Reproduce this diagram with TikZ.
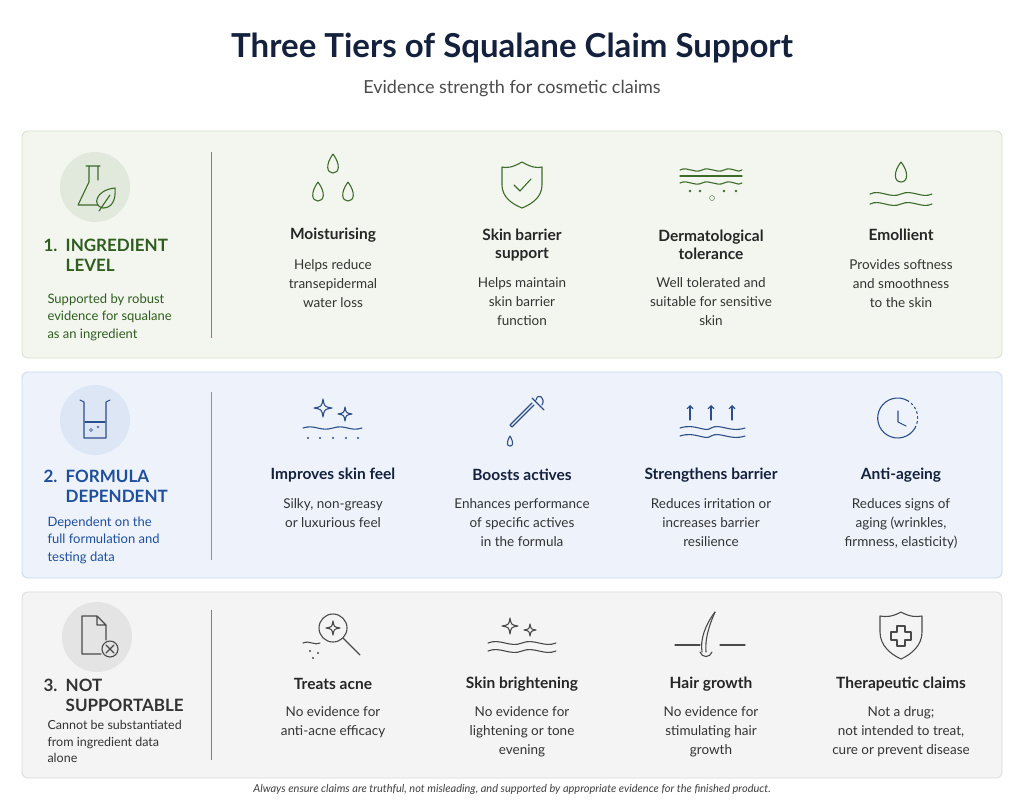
\documentclass[tikz,border=0pt]{standalone}
\usepackage{fontspec}
\setmainfont{Lato}
\usetikzlibrary{arrows.meta}
\definecolor{gbg}{HTML}{F2F6EF}\definecolor{gbd}{HTML}{D3E0CC}\definecolor{gdk}{HTML}{2F5D1E}\definecolor{gic}{HTML}{3D6B2A}\definecolor{gci}{HTML}{E1E8DC}
\definecolor{bbg}{HTML}{EEF3FB}\definecolor{bbd}{HTML}{C8D7EE}\definecolor{bdk}{HTML}{1F4F9C}\definecolor{bic}{HTML}{2C4F8A}\definecolor{bci}{HTML}{DDE6F4}
\definecolor{ybg}{HTML}{F4F4F4}\definecolor{ybd}{HTML}{DADADA}\definecolor{ydk}{HTML}{333333}\definecolor{yic}{HTML}{4A4A4A}\definecolor{yci}{HTML}{E4E4E4}
\definecolor{navy}{HTML}{14213D}
\tikzset{
 panel/.style={rounded corners=6pt,line width=0.8pt},
 head/.style={font=\fontsize{15.5}{18}\selectfont\bfseries,align=center,text=#1},
 desc/.style={font=\fontsize{13.5}{19}\selectfont,align=center,text=#1},
 lhead/.style={font=\fontsize{17}{20}\selectfont\bfseries,align=left,anchor=north west,text=#1},
 ldesc/.style={font=\fontsize{13}{17.5}\selectfont,align=left,anchor=north west,text=#1},
 ic/.style={line width=1.1pt,draw=#1,line cap=round,line join=round},
}
\newcommand{\mysparkle}[4]{% color, x, y, size
 \draw[ic=#1] (#2,#3-#4) .. controls (#2+0.15*#4,#3-0.15*#4) .. (#2+#4,#3) .. controls (#2+0.15*#4,#3+0.15*#4) .. (#2,#3+#4) .. controls (#2-0.15*#4,#3+0.15*#4) .. (#2-#4,#3) .. controls (#2-0.15*#4,#3-0.15*#4) .. (#2,#3-#4);}
\begin{document}
\begin{tikzpicture}[x=1pt,y=-1pt]
\useasboundingbox[fill=white] (0,0) rectangle (1024,806);
\node[font=\fontsize{33}{38}\selectfont\bfseries,text=navy] (title) at (512,48) {Three Tiers of Squalane Claim Support};
\node[font=\fontsize{18}{22}\selectfont,text=black!70] (sub) at (512,89) {Evidence strength for cosmetic claims};
% panels
\draw[panel,fill=gbg,draw=gbd] (22,131) rectangle (1002,358);
\draw[panel,fill=bbg,draw=bbd] (22,372) rectangle (1002,578);
\draw[panel,fill=ybg,draw=ybd] (22,592) rectangle (1002,778);
% left circles
\fill[gci] (95,187) circle (35);
\fill[bci] (95,420) circle (35);
\fill[yci] (97,637) circle (35);
% tier1 left icon: flask + leaf
\draw[ic=gic] (86,166)--(100,166) (89,166)--(89,182)--(78,205)--(101,205) (98,166)--(98,180);
\draw[ic=gic,fill=gci] (103,208) .. controls (92,206) and (95,190) .. (115,188) .. controls (116,200) and (112,208) .. (103,208);
\draw[ic=gic] (99,211)--(110,195);
% tier2 beaker
\draw[ic=bic] (80,400)--(84,402)--(84,438)--(106,438)--(106,402)--(110,400);
\draw[ic=bic] (85,422)--(105,422);
\draw[bic] (91,430) circle (1.5) (98,427) circle (1.2);
% tier3 doc with x
\draw[ic=yic] (82,616)--(97,616)--(106,625)--(106,640) (101,654)--(82,654)--(82,616) (97,616)--(97,625)--(106,625);
\draw[ic=yic,fill=yci] (110,649) circle (8);
\draw[ic=yic] (106,645)--(114,653) (114,645)--(106,653);
% dividers
\draw[gdk!70,line width=1pt] (211,152)--(211,338);
\draw[bdk!60,line width=1pt] (211,392)--(211,560);
\draw[black!50,line width=1pt] (211,610)--(211,760);
% left texts
\node[lhead=gdk] (l1) at (40,236) {1.\ \ INGREDIENT\\\phantom{1.\ \ }LEVEL};
\node[ldesc=gdk] (d1) at (44,290) {Supported by robust\\evidence for squalane\\as an ingredient};
\node[lhead=bdk] (l2) at (40,467) {2.\ \ FORMULA\\\phantom{2.\ \ }DEPENDENT};
\node[ldesc=bdk] (d2) at (44,513) {Dependent on the\\full formulation and\\testing data};
\node[lhead=ydk] (l3) at (40,676) {3.\ \ NOT\\\phantom{3.\ \ }SUPPORTABLE};
\node[ldesc=ydk,font=\fontsize{12.5}{16.5}\selectfont] (d3) at (44,717) {Cannot be substantiated\\from ingredient data\\alone};
% tier1 columns
\node[head=black!85] (h11) at (333,235) {Moisturising};
\node[desc=black!80,anchor=north] (t11) at (333,256) {Helps reduce\\transepidermal\\water loss};
\node[head=black!85] (h12) at (522,245) {Skin barrier\\support};
\node[desc=black!80,anchor=north] (t12) at (522,274) {Helps maintain\\skin barrier\\function};
\node[head=black!85] (h13) at (711,245) {Dermatological\\tolerance};
\node[desc=black!80,anchor=north] (t13) at (711,274) {Well tolerated and\\suitable for sensitive\\skin};
\node[head=black!85] (h14) at (901,235) {Emollient};
\node[desc=black!80,anchor=north] (t14) at (901,256) {Provides softness\\and smoothness\\to the skin};
% tier1 icons
\foreach \x/\y in {333/164,318/192,348/192}{\draw[ic=gic] (\x,\y-10) .. controls (\x-8,\y+1) and (\x-6,\y+9) .. (\x,\y+9) .. controls (\x+6,\y+9) and (\x+8,\y+1) .. (\x,\y-10);}
\draw[ic=gic] (522,162) .. controls (512,168) and (506,168) .. (502,167)--(502,185) .. controls (502,197) and (512,204) .. (522,208) .. controls (532,204) and (542,197) .. (542,185)--(542,167) .. controls (538,168) and (532,168) .. (522,162);
\draw[ic=gic] (514,185)--(520,191)--(531,179);
\foreach \yy in {170,183}{\draw[ic=gic] (680,\yy) .. controls (688,\yy-4) and (694,\yy+4) .. (702,\yy) .. controls (710,\yy-4) and (716,\yy+4) .. (724,\yy) .. controls (732,\yy-4) and (738,\yy+4) .. (742,\yy);}
\draw[ic=gic] (680,176)--(742,176);
\foreach \xx in {690,700,724,736}{\fill[gic] (\xx,191) circle (1.3);}
\draw[gic] (712,198) circle (2.5);
\draw[ic=gic] (901,162) .. controls (893,172) and (894,182) .. (901,182) .. controls (908,182) and (909,172) .. (901,162);
\foreach \yy in {194,204}{\draw[ic=gic] (870,\yy) .. controls (880,\yy-5) and (890,\yy+5) .. (901,\yy) .. controls (912,\yy-5) and (922,\yy+5) .. (932,\yy);}
% tier2 columns
\node[head=navy] (h21) at (333,475) {Improves skin feel};
\node[desc=black!80,anchor=north] (t21) at (333,495) {Silky, non-greasy\\or luxurious feel};
\node[head=navy] (h22) at (522,475) {Boosts actives};
\node[desc=black!80,anchor=north] (t22) at (522,495) {Enhances performance\\of specific actives\\in the formula};
\node[head=navy] (h23) at (711,475) {Strengthens barrier};
\node[desc=black!80,anchor=north] (t23) at (711,495) {Reduces irritation or\\increases barrier\\resilience};
\node[head=navy] (h24) at (901,475) {Anti-ageing};
\node[desc=black!80,anchor=north] (t24) at (901,495) {Reduces signs of\\aging (wrinkles,\\firmness, elasticity)};
% tier2 icons
\mysparkle{bic}{323}{408}{9}
\mysparkle{bic}{345}{414}{7}
\draw[ic=bic] (303,428) .. controls (315,424) and (320,432) .. (333,428) .. controls (345,424) and (350,432) .. (362,428);
\foreach \xx in {308,320,333,346,358}{\fill[bic] (\xx,438) circle (1.2);}
\draw[ic=bic] (532,398)--(544,410) (536,400) .. controls (538,392) and (546,398) .. (542,405);
\draw[ic=bic] (534,405)--(517,422)--(512,427)--(510,425)--(515,420)--(532,403);
\draw[ic=bic] (510,436) .. controls (506,443) and (507,446) .. (510,446) .. controls (513,446) and (514,443) .. (510,436);
\foreach \xx in {690,711,732}{\draw[ic=bic,-{Straight Barb[length=3pt]}] (\xx,420)--(\xx,405);}
\foreach \yy in {428,436}{\draw[ic=bic] (680,\yy) .. controls (695,\yy-5) and (705,\yy+5) .. (711,\yy) .. controls (720,\yy-5) and (730,\yy+5) .. (745,\yy);}
\draw[ic=bic] (915,428) arc(30:300:20);
\draw[ic=bic,dash pattern=on 2pt off 3pt] (915,428) arc(30:-60:20);
\draw[ic=bic] (898,411)--(898,422)--(906,426);
% tier3 columns
\node[head=black!85] (h31) at (333,684) {Treats acne};
\node[desc=black!80,anchor=north] (t31) at (333,703) {No evidence for\\anti-acne efficacy};
\node[head=black!85] (h32) at (522,684) {Skin brightening};
\node[desc=black!80,anchor=north] (t32) at (522,703) {No evidence for\\lightening or tone\\evening};
\node[head=black!85] (h33) at (711,684) {Hair growth};
\node[desc=black!80,anchor=north] (t33) at (711,703) {No evidence for\\stimulating hair\\growth};
\node[head=black!85] (h34) at (901,684) {Therapeutic claims};
\node[desc=black!80,anchor=north] (t34) at (901,703) {Not a drug;\\not intended to treat,\\cure or prevent disease};
% tier3 icons
\draw[ic=yic] (333,628) circle (14);
\draw[ic=yic] (343,638)--(360,655);
\mysparkle{yic}{333}{628}{7}
\draw[ic=yic] (303,643) .. controls (310,640) and (315,646) .. (320,643);
\fill[yic] (310,651) circle (1.2) (318,653) circle (1.2) (313,658) circle (1.2);
\mysparkle{yic}{510}{626}{8}
\mysparkle{yic}{530}{630}{6}
\foreach \yy in {643,651}{\draw[ic=yic] (488,\yy) .. controls (500,\yy-5) and (510,\yy+5) .. (522,\yy) .. controls (534,\yy-5) and (544,\yy+5) .. (556,\yy);}
\draw[ic=yic] (675,645)--(700,645) (720,645)--(745,645);
\draw[ic=yic] (702,652) .. controls (700,640) and (705,625) .. (715,612);
\draw[ic=yic] (706,652) .. controls (705,640) and (708,628) .. (715,612);
\draw[ic=yic] (700,652) .. controls (702,658) and (710,658) .. (712,652);
\draw[ic=yic] (901,612) .. controls (892,617) and (886,617) .. (880,616)--(880,632) .. controls (880,645) and (890,654) .. (901,659) .. controls (912,654) and (922,645) .. (922,632)--(922,616) .. controls (916,617) and (910,617) .. (901,612);
\draw[ic=yic] (897,626)--(905,626)--(905,632)--(911,632)--(911,640)--(905,640)--(905,646)--(897,646)--(897,640)--(891,640)--(891,632)--(897,632)--cycle;
% footer
\node[font=\fontsize{11}{13}\selectfont\itshape,text=black!75] (foot) at (512,789) {Always ensure claims are truthful, not misleading, and supported by appropriate evidence for the finished product.};
\end{tikzpicture}
\end{document}
